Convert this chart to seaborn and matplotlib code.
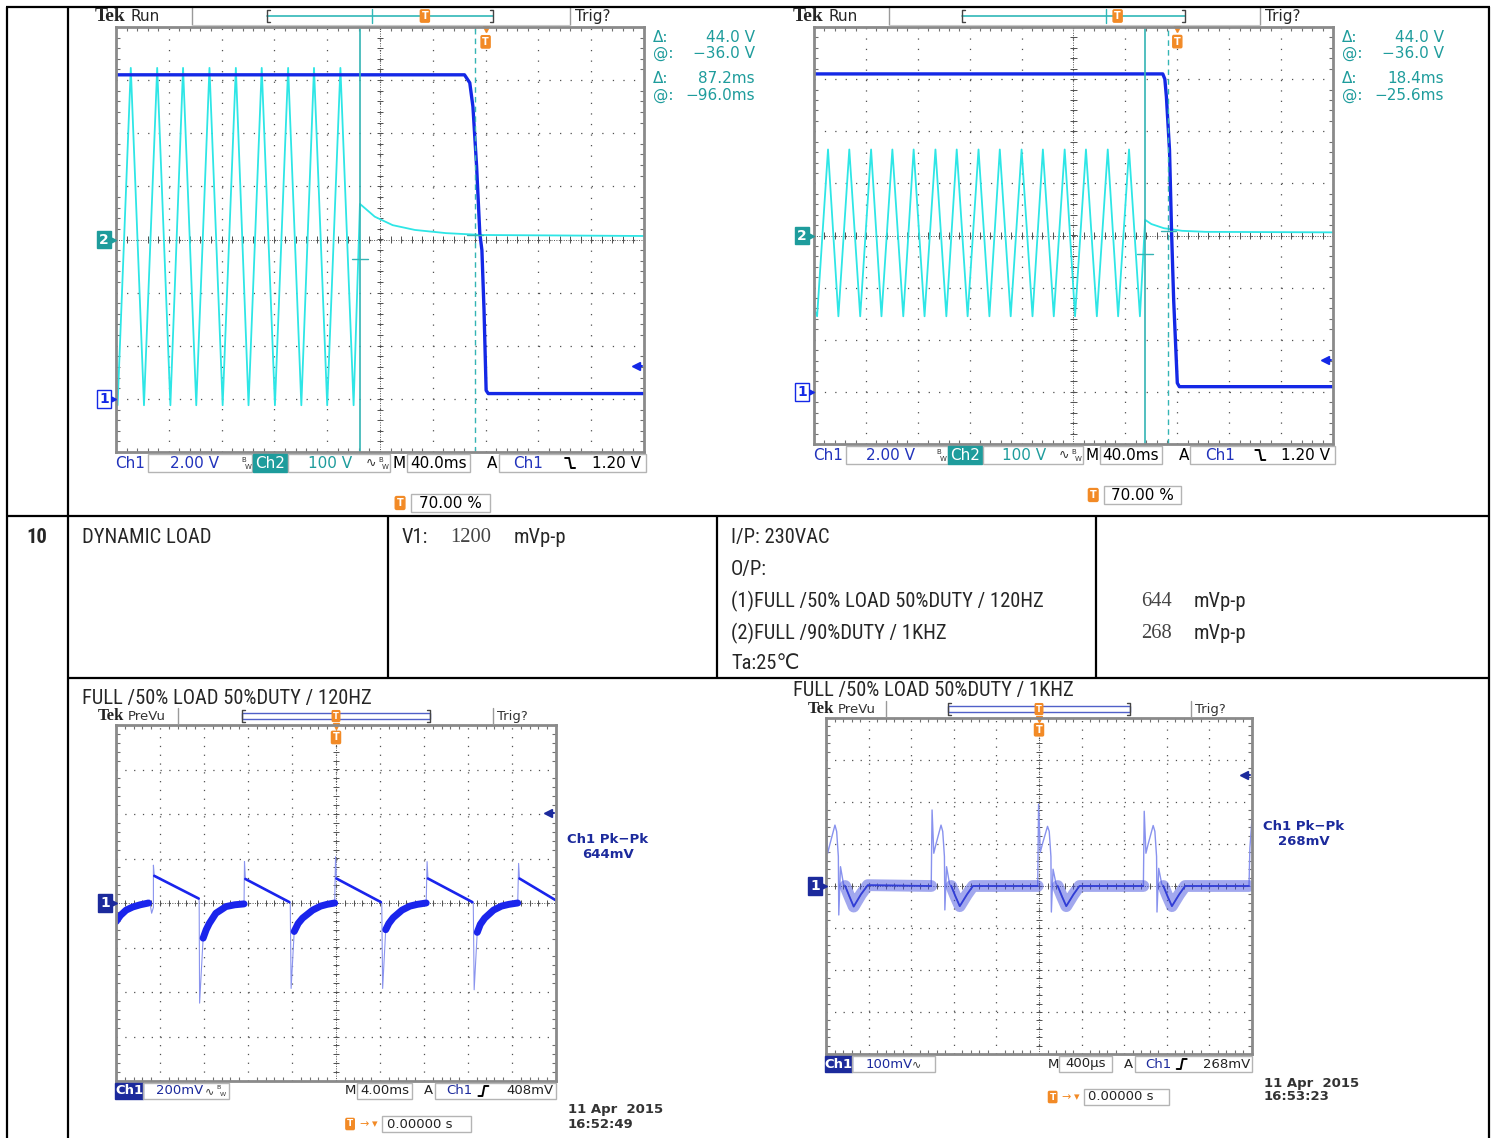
import numpy as np
import pandas as pd
import seaborn as sns
import matplotlib.pyplot as plt
from matplotlib.patches import Rectangle
from matplotlib import font_manager

W, H = 1491, 1138

# ---- waveform data, in screen divisions (x 0..10, y -4..4) ----
# top-left: AC off, 50Hz input (ch2) and output (ch1)
TL_CH1_T = [0.00, 6.60, 6.70, 6.76, 6.83, 6.89, 6.93, 6.97, 7.01, 7.05, 10.0]
TL_CH1_V = [3.10, 3.10, 2.95, 2.50, 1.37, 0.12, -0.20, -1.33, -2.84, -2.90, -2.90]
TL_CH2_T = [0.00, 0.03, 0.28, 0.53, 0.78, 1.03, 1.27, 1.52, 1.77, 2.02, 2.27,
            2.51, 2.76, 3.01, 3.26, 3.51, 3.75, 4.00, 4.25, 4.50,
            4.62, 4.90, 5.24, 5.66, 6.25, 6.93, 10.0]
TL_CH2_V = [-2.90, -3.12, 3.23, -3.12, 3.23, -3.12, 3.23, -3.12, 3.23, -3.12, 3.23,
            -3.12, 3.23, -3.12, 3.23, -3.12, 3.23, -3.12, 3.23, -3.12,
            0.67, 0.43, 0.27, 0.18, 0.12, 0.085, 0.066]
TL_CURSOR_T = [4.62, 6.80]
TL_CURSOR_V = [-0.36, 0.08]
TL_READOUT = ['44.0 V', '\u221236.0 V', '87.2ms', '\u221296.0ms']

# top-right: AC off, 60Hz input
TR_CH1_T = [0.00, 6.72, 6.76, 6.79, 6.85, 6.89, 6.93, 7.00, 7.04, 10.0]
TR_CH1_V = [3.10, 3.10, 3.00, 2.66, 1.64, 0.05, -1.24, -2.83, -2.90, -2.90]
TR_CH2_T = [0.00, 0.06, 0.27, 0.47, 0.68, 0.89, 1.10, 1.30, 1.51, 1.72, 1.92,
            2.13, 2.34, 2.55, 2.75, 2.96, 3.17, 3.38, 3.58, 3.79, 4.00,
            4.21, 4.41, 4.62, 4.83, 5.03, 5.24, 5.45, 5.66, 5.86, 6.07, 6.28,
            6.38, 6.50, 6.74, 7.09, 7.55, 10.0]
TR_CH2_V = [-1.40, -1.55, 1.65, -1.55, 1.65, -1.55, 1.65, -1.55, 1.65, -1.55, 1.65,
            -1.55, 1.65, -1.55, 1.65, -1.55, 1.65, -1.55, 1.65, -1.55, 1.65,
            -1.55, 1.65, -1.55, 1.65, -1.55, 1.65, -1.55, 1.65, -1.55, 1.65, -1.55,
            0.30, 0.22, 0.14, 0.09, 0.07, 0.06]
TR_CURSOR_T = [6.38, 6.83]
TR_CURSOR_V = [-0.36, 0.08]
TR_READOUT = ['44.0 V', '\u221236.0 V', '18.4ms', '\u221225.6ms']

TOP_STATUS = ['2.00 V', '100 V', '40.0ms', '1.20 V']

# bottom-left: 120Hz dynamic load ripple (w: 0 thin spike, 1 trace, 2 thick band)
BL_T = [0.00, 0.10, 0.23, 0.38, 0.55, 0.74, 0.78, 0.81, 0.85, 0.85, 0.87,
        1.88, 1.89, 1.90, 1.98, 2.05, 2.12, 2.27, 2.50, 2.70, 2.91,
        2.92, 2.94, 3.94, 3.96, 3.98, 4.05, 4.14, 4.24, 4.47, 4.65, 4.80, 4.97,
        4.99, 5.01, 6.02, 6.04, 6.06, 6.13, 6.20, 6.30, 6.50, 6.68, 6.85, 7.05,
        7.07, 7.09, 8.10, 8.12, 8.14, 8.21, 8.28, 8.38, 8.58, 8.76, 8.93, 9.13,
        9.15, 9.17, 9.98]
BL_V = [-0.42, -0.28, -0.16, -0.09, -0.04, 0.00, -0.05, -0.23, -0.10, 0.85, 0.61,
        0.10, 0.04, -2.25, -0.79, -0.60, -0.46, -0.23, -0.08, -0.04, -0.02,
        0.93, 0.54, 0.02, 0.00, -1.92, -0.64, -0.46, -0.34, -0.16, -0.07, -0.03, 0.00,
        1.04, 0.55, 0.02, 0.00, -1.92, -0.60, -0.46, -0.33, -0.16, -0.07, -0.03, 0.00,
        0.93, 0.55, 0.02, 0.00, -1.95, -0.66, -0.48, -0.34, -0.16, -0.07, -0.03, 0.00,
        0.89, 0.55, 0.07]
BL_W = [2, 2, 2, 2, 2, 2, 0, 0, 0, 0, 1,
        1, 0, 0, 2, 2, 2, 2, 2, 2, 2,
        0, 1, 1, 0, 0, 2, 2, 2, 2, 2, 2, 2,
        0, 1, 1, 0, 0, 2, 2, 2, 2, 2, 2, 2,
        0, 1, 1, 0, 0, 2, 2, 2, 2, 2, 2, 2,
        0, 1, 1]
BL_STATUS = ['200mV', '4.00ms', '408mV']
BL_PKPK = '644mV'
BL_DATE = ['11 Apr  2015', '16:52:49']

# bottom-right: 1kHz dynamic load ripple (w: 0 spike burst, 1 noisy band)
BR_T = [0.00, 0.04, 0.09, 0.21, 0.25, 0.29, 0.30, 0.34, 0.41, 0.45, 0.55, 0.65, 0.82, 0.98, 2.47,
        2.49, 2.53, 2.58, 2.70, 2.74, 2.78, 2.79, 2.83, 2.90, 2.94, 3.04, 3.14, 3.31, 3.45, 4.97,
        4.99, 5.03, 5.08, 5.20, 5.24, 5.28, 5.29, 5.33, 5.40, 5.44, 5.54, 5.64, 5.81, 5.95, 7.45,
        7.47, 7.51, 7.56, 7.68, 7.72, 7.76, 7.77, 7.81, 7.88, 7.92, 8.02, 8.12, 8.29, 8.43, 9.93,
        9.95, 10.0]
BR_V = [1.60, 0.78, 0.99, 1.45, 1.30, 0.70, -0.69, 0.46, 0.05, 0.00, -0.25, -0.49, -0.20, 0.02, 0.00,
        1.81, 0.78, 0.99, 1.45, 1.30, 0.70, -0.57, 0.46, 0.05, 0.00, -0.25, -0.48, -0.20, 0.00, 0.00,
        1.95, 0.80, 1.00, 1.42, 1.30, 0.70, -0.62, 0.40, 0.05, 0.00, -0.25, -0.48, -0.20, 0.00, 0.00,
        1.78, 0.78, 0.99, 1.44, 1.30, 0.70, -0.62, 0.42, 0.05, 0.00, -0.25, -0.48, -0.20, 0.00, 0.00,
        0.90, 1.60]
BR_W = [0, 0, 0, 0, 0, 0, 0, 0, 0, 1, 1, 1, 1, 1, 1,
        0, 0, 0, 0, 0, 0, 0, 0, 0, 1, 1, 1, 1, 1, 1,
        0, 0, 0, 0, 0, 0, 0, 0, 0, 1, 1, 1, 1, 1, 1,
        0, 0, 0, 0, 0, 0, 0, 0, 0, 1, 1, 1, 1, 1, 1,
        0, 0]
BR_STATUS = ['100mV', '400\u00b5s', '268mV']
BR_PKPK = '268mV'
BR_DATE = ['11 Apr  2015', '16:53:23']

# table text
ROW_NO = '10'
ITEM = 'DYNAMIC LOAD'
SPEC = ['V1:', '1200', 'mVp-p']
COND = ['I/P: 230VAC', 'O/P:', '(1)FULL /50% LOAD 50%DUTY / 120HZ',
        '(2)FULL /90%DUTY / 1KHZ', 'Ta:25\u2103']
RESULT = ['644', '268']
TITLES = ['FULL /50% LOAD 50%DUTY / 120HZ', 'FULL /50% LOAD 50%DUTY / 1KHZ']

BLUE = '#1428e6'
CYAN = '#2ee6e6'
TEAL = '#1e9c9c'
CH1TXT = '#2233bb'
ORANGE = '#f28a26'
NAVY = '#1c2a9c'

sns.set_theme(style='white')
plt.rcParams['font.family'] = ['DejaVu Sans']

# pick a narrow sans for the table if one is installed
installed = {f.name for f in font_manager.fontManager.ttflist}
narrow = next((n for n in ['Liberation Sans Narrow', 'Arial Narrow', 'Roboto Condensed',
                           'DejaVu Sans Condensed'] if n in installed), 'Liberation Sans')
NARROW = [narrow, 'DejaVu Sans']

fig = plt.figure(figsize=(W / 100, H / 100), dpi=100)
fig.patch.set_facecolor('white')

# fit the table font so the long condition line is ~315 px wide, as in the reference
probe = fig.text(0, 0, COND[2], fontsize=14, family=NARROW)
pw = probe.get_window_extent(renderer=fig.canvas.get_renderer()).width
probe.remove()
TFS = min(15.5, 14 * 315 / pw)


def screen(x0, y0, x1, y1):
    ax = fig.add_axes([x0 / W, 1 - y1 / H, (x1 - x0) / W, (y1 - y0) / H])
    ax.set_facecolor('none')
    ppd = (x1 - x0) / 10
    ax.set_xticks(np.arange(0, 11))
    ax.set_yticks(np.arange(-4, 5))
    ax.set_xticks(np.arange(0, 10.01, 0.2), minor=True)
    ax.set_yticks(np.arange(-4, 4.01, 0.2), minor=True)
    ax.tick_params(which='both', direction='in', top=True, right=True, bottom=True,
                   left=True, labelbottom=False, labelleft=False, color='#707070', width=0.8)
    ax.tick_params(which='major', length=0)
    ax.tick_params(which='minor', length=3)
    gap = 0.2 * ppd * 0.72 / 0.9 - 1
    ax.grid(True, which='major', color='#505050', linestyle=(0, (1, gap)), linewidth=0.9)
    for s in ax.spines.values():
        s.set_color('#8a8a8a')
        s.set_linewidth(2)
    ax.axhline(0, color='#505050', lw=0.7, ls=(0, (1, 1.5)))
    ax.axvline(5, color='#505050', lw=0.7, ls=(0, (1, 1.5)))
    ax.vlines(np.arange(0, 10.01, 0.2), -0.06, 0.06, color='#505050', lw=0.7)
    ax.hlines(np.arange(-4, 4.01, 0.2), 4.94, 5.06, color='#505050', lw=0.7)
    return ax


def finish(ax):
    ax.set_xlim(0, 10)
    ax.set_ylim(-4, 4)
    ax.set_xlabel('')
    ax.set_ylabel('')


def trace(ax, t, v, color, lw, w=None, layers=()):
    # layers: (min weight, linewidth, colour, alpha) drawn over the thin base trace
    df = pd.DataFrame({'t': t, 'v': v})
    sns.lineplot(data=df, x='t', y='v', ax=ax, color=color,
                 linewidth=lw, estimator=None, sort=False)
    if w is not None:
        df['w'] = w
        for level, lw2, c2, a2 in layers:
            m = df['w'] >= level
            d = df.assign(seg=(m != m.shift()).cumsum())[m]
            sns.lineplot(data=d, x='t', y='v', units='seg', ax=ax, color=c2,
                         linewidth=lw2, estimator=None, sort=False, alpha=a2)


def trig_mark(ax, pos):
    ax.text(pos, 3.72, 'T', color='white', fontsize=7, fontweight='bold', ha='center',
            va='center', bbox=dict(boxstyle='round,pad=0.12', fc=ORANGE, ec=ORANGE))
    ax.plot([pos], [3.97], marker='v', color=ORANGE, ms=5, clip_on=False)


# overlay layer in pixel coordinates
bg = fig.add_axes([0, 0, 1, 1])
bg.set_xlim(0, W)
bg.set_ylim(H, 0)
bg.axis('off')
bg.set_zorder(5)
bg.patch.set_alpha(0)


def txt(x, y, s, **kw):
    kw.setdefault('va', 'center')
    kw.setdefault('fontsize', 11)
    return bg.text(x, y, s, **kw)


def box(x0, y0, x1, y1, ec='#b4b4b4', fc='none', lw=1):
    bg.add_patch(Rectangle((x0, y0), x1 - x0, y1 - y0, ec=ec, fc=fc, lw=lw))


def edge(x, y, rising):
    s = 1 if rising else -1
    bg.plot([x - 5, x - 1, x + 1, x + 5], [y + 5 * s, y + 5 * s, y - 5 * s, y - 5 * s],
            color='black', lw=1.4)


def bw(x, y, fs):
    txt(x - 2, y - 3.5, 'B', color='#333', fontsize=fs, ha='center')
    txt(x + 2.5, y + 3.5, 'W', color='#333', fontsize=fs, ha='center')


def ch_marker(x, y, label, color, filled):
    txt(x, y, label, color='white' if filled else color, fontsize=10, fontweight='bold',
        ha='center', bbox=dict(boxstyle='square,pad=0.12', fc=color if filled else 'white', ec=color, lw=1))
    bg.plot([x + 9], [y], marker='>', color=color, ms=5)


def level_arrow(x, y, color):
    bg.plot([x], [y], marker='<', color=color, ms=6)
    bg.plot([x, x + 6], [y, y], color=color, lw=1.5)


def top_scope(x0, y0, x1, y1, ch1_t, ch1_v, ch2_t, ch2_v, cur_t, cur_v, readout, tick_f):
    ax = screen(x0, y0, x1, y1)
    trace(ax, ch2_t, ch2_v, CYAN, 1.3)
    trace(ax, ch1_t, ch1_v, BLUE, 2.4)
    ax.axvline(cur_t[0], color='#34b4b4', lw=1.2)
    ax.axvline(cur_t[1], color='#34b4b4', lw=1.0, ls=(0, (4, 3)))
    for c, v in zip(cur_t, cur_v):
        ax.plot([c - 0.15, c + 0.15], [v, v], color='#34b4b4', lw=1)
    trig_mark(ax, 7.0)
    finish(ax)

    gw = x1 - x0
    X = lambda f: x0 + f * gw
    yc = (y0 + y1) / 2
    pdy = (y1 - y0) / 8
    hy = y0 - 11
    # header
    txt(x0 - 21, hy, 'Tek', fontfamily='Liberation Serif', fontweight='bold', fontsize=14)
    txt(x0 + 14, hy, 'Run', fontsize=11)
    for f in (0.144, 0.86):
        bg.plot([X(f)] * 2, [y0 - 20, y0 - 2], color='#9a9a9a', lw=1)
    bg.plot([X(0.144), X(0.86)], [y0 - 2, y0 - 2], color='#c8c8c8', lw=0.8)
    txt(X(0.869), hy, 'Trig?', fontsize=11)
    bg.plot([X(0.286), X(0.714)], [hy, hy], color='#30b8b8', lw=1.2)
    for f, d in ((0.286, 3), (0.714, -3)):
        bg.plot([X(f) + d, X(f), X(f), X(f) + d], [hy - 6, hy - 6, hy + 6, hy + 6], color='#444', lw=1)
    bg.plot([X(tick_f)] * 2, [hy - 7, hy + 7], color='#30b8b8', lw=1)
    txt(X(0.585), hy, 'T', color='white', fontsize=7, fontweight='bold', ha='center',
        bbox=dict(boxstyle='round,pad=0.12', fc=ORANGE, ec=ORANGE))
    # readouts
    for i, (lab, val) in enumerate(zip(['\u0394:', '@:', '\u0394:', '@:'], readout)):
        yy = y0 + [10, 26, 51, 68][i]
        txt(x1 + 9, yy, lab, color=TEAL, fontsize=11)
        txt(x1 + 111, yy, val, color=TEAL, fontsize=11, ha='right')
    # markers
    ch_marker(x0 - 12, yc, '2', TEAL, True)
    ch_marker(x0 - 12, yc + 3 * pdy, '1', BLUE, False)
    level_arrow(x1 - 8, yc + 2.38 * pdy, BLUE)
    # status line
    sy = y1 + 11
    txt(X(-0.002), sy, 'Ch1', color=CH1TXT)
    box(X(0.061), sy - 9, X(0.258), sy + 9)
    txt((X(0.061) + X(0.235)) / 2, sy, TOP_STATUS[0], color=CH1TXT, ha='center')
    bw(X(0.245), sy, 5)
    box(X(0.259), sy - 9, X(0.324), sy + 9, ec=TEAL, fc=TEAL)
    txt((X(0.259) + X(0.324)) / 2, sy, 'Ch2', color='white', ha='center')
    box(X(0.326), sy - 9, X(0.519), sy + 9)
    txt(X(0.405), sy, TOP_STATUS[1], color=TEAL, ha='center')
    txt(X(0.482), sy, '\u223f', color='#333', fontsize=9, ha='center')
    bw(X(0.505), sy, 5)
    txt(X(0.523), sy, 'M', color='black')
    box(X(0.551), sy - 9, X(0.670), sy + 9)
    txt((X(0.551) + X(0.670)) / 2, sy, TOP_STATUS[2], color='black', ha='center')
    txt(X(0.703), sy, 'A', color='black')
    box(X(0.725), sy - 9, X(1.004), sy + 9)
    txt(X(0.753), sy, 'Ch1', color=CH1TXT)
    edge(X(0.86), sy, False)
    txt(X(0.995), sy, TOP_STATUS[3], color='black', ha='right')
    # trigger position
    ty = y1 + 51
    txt(X(0.538), ty, 'T', color='white', fontsize=7, fontweight='bold', ha='center',
        bbox=dict(boxstyle='round,pad=0.15', fc=ORANGE, ec=ORANGE))
    box(X(0.559), ty - 9, X(0.708), ty + 9)
    txt((X(0.559) + X(0.708)) / 2, ty, '70.00 %', color='black', ha='center')


def bottom_scope(x0, y0, x1, y1, t, v, w, layers, lw, thin, status, pkpk, date,
                 arrow_div, has_bw):
    ax = screen(x0, y0, x1, y1)
    trace(ax, t, v, thin, lw, w=w, layers=layers)
    trig_mark(ax, 5.0)
    finish(ax)

    gw = x1 - x0
    X = lambda f: x0 + f * gw
    yc = (y0 + y1) / 2
    pdy = (y1 - y0) / 8
    hy = y0 - 9
    txt(x0 - 18, hy, 'Tek', fontfamily='Liberation Serif', fontweight='bold', fontsize=12, color='#222')
    txt(x0 + 12, hy, 'PreVu', fontsize=9.5, color='#333')
    for f in (0.141, 0.857):
        bg.plot([X(f)] * 2, [y0 - 17, y0 - 1], color='#9a9a9a', lw=1)
    txt(X(0.866), hy, 'Trig?', fontsize=9.5, color='#333')
    box(X(0.286), hy - 3, X(0.714), hy + 3, ec='#5060c8', lw=1)
    for f, d in ((0.286, 3), (0.714, -3)):
        bg.plot([X(f) + d, X(f), X(f), X(f) + d], [hy - 6, hy - 6, hy + 6, hy + 6], color='#444', lw=1)
    txt(X(0.5), hy, 'T', color='white', fontsize=6, fontweight='bold', ha='center',
        bbox=dict(boxstyle='round,pad=0.1', fc=ORANGE, ec=ORANGE))
    # side readout
    py = y0 + 0.323 * (y1 - y0)
    txt(x1 + 52, py, 'Ch1 Pk\u2212Pk', color=NAVY, fontsize=9.5, fontweight='bold', ha='center')
    txt(x1 + 52, py + 15, pkpk, color=NAVY, fontsize=9.5, fontweight='bold', ha='center')
    ch_marker(x0 - 11, yc, '1', NAVY, True)
    level_arrow(x1 - 8, yc - arrow_div * pdy, NAVY)
    # status line
    sy = y1 + 10
    box(X(-0.002), sy - 8, X(0.062), sy + 8, ec=NAVY, fc=NAVY)
    txt((X(-0.002) + X(0.062)) / 2, sy, 'Ch1', color='white', fontsize=9.5, fontweight='bold', ha='center')
    box(X(0.062), sy - 8, X(0.257), sy + 8)
    txt(X(0.092), sy, status[0], color=NAVY, fontsize=9.5)
    txt(X(0.212), sy, '\u223f', color='#333', fontsize=8, ha='center')
    if has_bw:
        bw(X(0.237), sy, 4.5)
    txt(X(0.52), sy, 'M', color='#222', fontsize=9.5)
    box(X(0.548), sy - 8, X(0.672), sy + 8)
    txt((X(0.548) + X(0.672)) / 2, sy, status[1], color='#222', fontsize=9.5, ha='center')
    txt(X(0.700), sy, 'A', color='#222', fontsize=9.5)
    box(X(0.725), sy - 8, X(1.0), sy + 8)
    txt(X(0.75), sy, 'Ch1', color=NAVY, fontsize=9.5)
    edge(X(0.835), sy, True)
    txt(X(0.995), sy, status[2], color='#222', fontsize=9.5, ha='right')
    ty = y1 + 43
    txt(X(0.532), ty, 'T', color='white', fontsize=6.5, fontweight='bold', ha='center',
        bbox=dict(boxstyle='round,pad=0.12', fc=ORANGE, ec=ORANGE))
    txt(X(0.563), ty, '\u2192', color=ORANGE, fontsize=8, ha='center')
    txt(X(0.588), ty, '\u25be', color=ORANGE, fontsize=8, ha='center')
    box(X(0.605), ty - 8, X(0.806), ty + 8)
    txt(X(0.615), ty, '0.00000 s', color='#222', fontsize=9.5)
    txt(x1 + 12, y1 + 29, date[0], color='#333', fontsize=9.5, fontweight='bold')
    txt(x1 + 12, y1 + 43, date[1], color='#333', fontsize=9.5, fontweight='bold')


top_scope(116, 27, 644, 452, TL_CH1_T, TL_CH1_V, TL_CH2_T, TL_CH2_V,
          TL_CURSOR_T, TL_CURSOR_V, TL_READOUT, 0.485)
top_scope(814, 27, 1333, 444, TR_CH1_T, TR_CH1_V, TR_CH2_T, TR_CH2_V,
          TR_CURSOR_T, TR_CURSOR_V, TR_READOUT, 0.563)
bottom_scope(116, 725, 556, 1081, BL_T, BL_V, BL_W,
             [(1, 1.9, '#1a24ec', 1.0), (2, 5.0, '#1a24ec', 1.0)], 0.8, '#8a94ee',
             BL_STATUS, BL_PKPK, BL_DATE, 2.02, True)
bottom_scope(826, 718, 1252, 1054, BR_T, BR_V, BR_W,
             [(1, 8.5, '#4652de', 0.5), (1, 1.3, '#2c38d4', 0.9)], 1.0, '#8892ee',
             BR_STATUS, BR_PKPK, BR_DATE, 2.64, False)

# ---- table frame ----
LINE = dict(color='black', lw=1.6, solid_capstyle='butt')
bg.plot([6, 1490], [7, 7], **LINE)
bg.plot([7, 7], [7, H], **LINE)
bg.plot([68, 68], [7, H], **LINE)
bg.plot([1489, 1489], [7, H], **LINE)
bg.plot([7, 1490], [516, 516], **LINE)
bg.plot([68, 1490], [678, 678], **LINE)
for xx in (388, 717, 1096):
    bg.plot([xx, xx], [516, 678], **LINE)

txt(37, 537, ROW_NO, fontsize=TFS, fontweight='bold', ha='center', family=NARROW)
txt(82, 537, ITEM, fontsize=TFS, family=NARROW)
txt(402, 537, SPEC[0], fontsize=TFS, family=NARROW)
txt(450, 537, SPEC[1], fontsize=TFS, family='Liberation Serif', color='#444')
txt(514, 537, SPEC[2], fontsize=TFS, family=NARROW)
for i, s in enumerate(COND):
    txt(731, [537, 569, 601, 633, 663][i], s, fontsize=TFS, family=NARROW)
for i, s in enumerate(RESULT):
    txt(1141, [601, 633][i], s, fontsize=TFS, family='Liberation Serif', color='#444')
    txt(1194, [601, 633][i], 'mVp-p', fontsize=TFS, family=NARROW)
txt(82, 698, TITLES[0], fontsize=TFS, family=NARROW)
txt(793, 690, TITLES[1], fontsize=TFS, family=NARROW)

fig.savefig('out.png', dpi=100)
